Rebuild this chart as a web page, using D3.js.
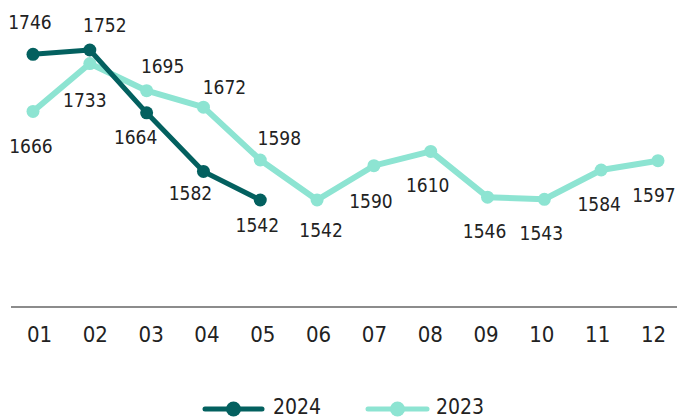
<!DOCTYPE html>
<html>
<head>
<meta charset="utf-8">
<script src="https://cdn.jsdelivr.net/npm/d3@7"></script>
<style>
  body { margin: 0; background: #fff; }
  text { font-family: "Liberation Sans Narrow", "DejaVu Sans Condensed", "DejaVu Sans", sans-serif; font-stretch: condensed; fill: #222; }
</style>
</head>
<body>
<div id="chart-area"></div>
<script>
const months = ["01", "02", "03", "04", "05", "06", "07", "08", "09", "10", "11", "12"];
const values2024 = [1746, 1752, 1664, 1582, 1542];
const values2023 = [1666, 1733, 1695, 1672, 1598, 1542, 1590, 1610, 1546, 1543, 1584, 1597];
const seriesNames = ["2024", "2023"];

// hand placed label offsets [dx, dy] relative to each point
const offsets2024 = [[-3, -25], [15, -18], [-11, 31], [-13, 29], [-3, 32]];
const offsets2023 = [[-2, 42], [-5, 43], [16, -18], [21, -13], [19, -15], [4, 37],
    [-3, 42], [-3, 41], [-3, 41], [-3, 41], [-2, 41], [-4, 41]];

const width = 677;
const height = 420;
const colours = ["#03605f", "#8de4d2"];

const svg = d3.select("#chart-area")
    .append("svg")
    .attr("width", width)
    .attr("height", height);

const x = d3.scalePoint().domain(months).range([33, 658]);
const xTick = d3.scalePoint().domain(months).range([39, 653]);
const y = d3.scaleLinear().domain([1542, 1752]).range([200, 50]);

/** Axis */
const bottomAxis = d3.axisBottom(xTick).tickSize(0).tickPadding(0);
const axisG = svg.append("g")
    .attr("class", "bottom axis")
    .attr("transform", "translate(0, 307)")
    .call(bottomAxis);
axisG.select(".domain").remove();
axisG.selectAll("text")
    .attr("dy", null)
    .attr("y", 35)
    .attr("font-size", "22px")
    .style("fill", "#222");

svg.append("line")
    .attr("x1", 11)
    .attr("x2", width)
    .attr("y1", 307)
    .attr("y2", 307)
    .attr("stroke", "#666")
    .attr("stroke-width", 1.5);

/** Lines */
const line = d3.line()
    .x((d, i) => x(months[i]))
    .y((d) => y(d));

const series = [
    { name: seriesNames[1], values: values2023, offsets: offsets2023, colour: colours[1], w: 6 },
    { name: seriesNames[0], values: values2024, offsets: offsets2024, colour: colours[0], w: 5 }
];

series.forEach((s) => {
    svg.append("path")
        .datum(s.values)
        .attr("fill", "none")
        .attr("stroke", s.colour)
        .attr("stroke-width", s.w)
        .attr("stroke-linejoin", "round")
        .attr("d", line);

    svg.selectAll(null)
        .data(s.values)
        .enter()
        .append("circle")
        .attr("cx", (d, i) => x(months[i]))
        .attr("cy", (d) => y(d))
        .attr("r", 6.5)
        .attr("fill", s.colour);
});

series.forEach((s) => {
    svg.selectAll(null)
        .data(s.values)
        .enter()
        .append("text")
        .attr("x", (d, i) => x(months[i]) + s.offsets[i][0])
        .attr("y", (d, i) => y(d) + s.offsets[i][1])
        .attr("text-anchor", "middle")
        .attr("font-size", "19px")
        .text((d) => d);
});

/** Legend */
const legend = [
    { name: seriesNames[0], colour: colours[0], x1: 205, x2: 262, tx: 273 },
    { name: seriesNames[1], colour: colours[1], x1: 368, x2: 427, tx: 436 }
];
const lg = svg.append("g").attr("class", "legend");
legend.forEach((l) => {
    lg.append("line")
        .attr("x1", l.x1).attr("x2", l.x2)
        .attr("y1", 409).attr("y2", 409)
        .attr("stroke", l.colour)
        .attr("stroke-width", 5)
        .attr("stroke-linecap", "round");
    lg.append("circle")
        .attr("cx", (l.x1 + l.x2) / 2)
        .attr("cy", 409)
        .attr("r", 7.5)
        .attr("fill", l.colour);
    lg.append("text")
        .attr("x", l.tx)
        .attr("y", 414)
        .attr("font-size", "21px")
        .text(l.name);
});
</script>
</body>
</html>
